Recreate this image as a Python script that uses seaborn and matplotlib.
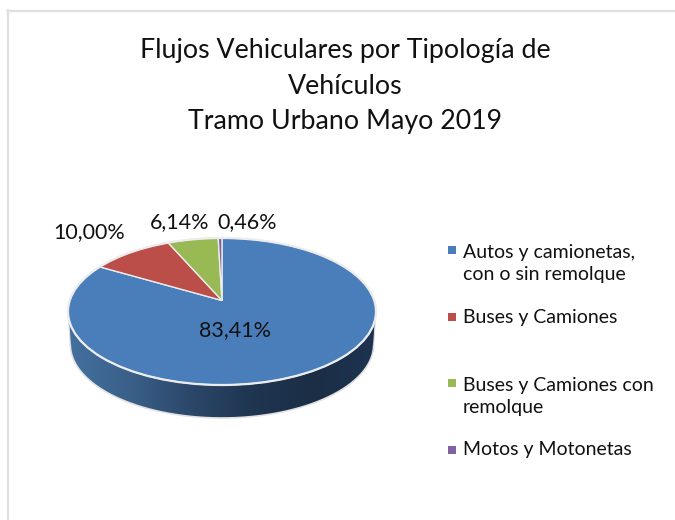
import numpy as np
import matplotlib
matplotlib.use("Agg")
import matplotlib.pyplot as plt
import matplotlib.transforms as mtransforms
from matplotlib.colors import LinearSegmentedColormap
from matplotlib.patches import Circle, PathPatch
from matplotlib.path import Path
import seaborn as sns

# ---- data ----
categories = ["Autos y camionetas,\ncon o sin remolque", "Buses y Camiones",
              "Buses y Camiones con\nremolque", "Motos y Motonetas"]
values = [83.41, 10.00, 6.14, 0.46]
title_text = "Flujos Vehiculares por Tipología de\nVehículos\nTramo Urbano Mayo 2019"
slice_colors = ["#4a7ebb", "#bc4e4a", "#98b954", "#7f63a1"]

# ---- layout (pixels) ----
W, H = 675, 520
CX, CY, RX, RY, APEX = 222.0, 311.5, 154.0, 73.5, 11.0
DEPTH = 33.0
label_pos = [(235, 330), (89, 232), (180, 222), (247, 222)]
legend_y = [250, 317, 383, 450]
legend_text_y = [263.5, 317, 396.5, 450]

sns.set_theme(style="white")
plt.rcParams["font.family"] = ["Lato", "DejaVu Sans"]
palette = sns.color_palette(slice_colors)

K = APEX / RY
A = RX * np.sqrt(1 - K ** 2)


class Persp(mtransforms.Transform):
    """Tilted view of the unit disc, output in pixel coordinates."""
    input_dims = output_dims = 2
    is_separable = False
    has_inverse = False

    def transform_non_affine(self, v):
        v = np.asarray(v, dtype=float)
        x, y = v[:, 0], v[:, 1]
        w = 1 + K * y
        return np.column_stack([CX + A * x / w, CY - (RY * y + APEX) / w])


fig = plt.figure(figsize=(W / 100, H / 100), dpi=100, facecolor="white")
ax = fig.add_axes([0, 0, 1, 1])

wedges, _ = ax.pie(values, colors=palette, startangle=90, counterclock=False,
                   wedgeprops=dict(edgecolor="#ececec", linewidth=1.0, zorder=5))
P = Persp()
for w in wedges:
    w.set_transform(P + ax.transData)

# side wall with left-to-right gradient
a0 = np.degrees(np.arcsin(K))
t = np.radians(np.linspace(180 + a0, 360 - a0, 200))
rim = P.transform_non_affine(np.column_stack([np.cos(t), np.sin(t)]))
low = rim.copy()
low[:, 0] = CX + (low[:, 0] - CX) * 0.985
low[:, 1] += DEPTH
wall_xy = np.vstack([rim, low[::-1], rim[:1]])
wall_path = Path(wall_xy)
wall_cmap = LinearSegmentedColormap.from_list(
    "wall", ["#44709f", "#3a6089", "#2b4769", "#1f3550", "#1b2e46", "#1d3350"])
img = ax.imshow(np.linspace(0, 1, 256)[None, :], cmap=wall_cmap, aspect="auto",
                extent=(CX - RX, CX + RX, CY + RY + DEPTH, CY - RY), zorder=2)
clip = PathPatch(wall_path, transform=ax.transData, facecolor="none", edgecolor="none")
ax.add_patch(clip)
img.set_clip_path(clip)
ax.add_patch(PathPatch(Path(low), fill=False, edgecolor="#e2e2e2", linewidth=1.2, zorder=3))
ax.add_patch(PathPatch(Path(np.vstack([rim[:1], low[:1]])), fill=False,
                       edgecolor="#e2e2e2", linewidth=0.8, zorder=3))
ax.add_patch(PathPatch(Path(np.vstack([rim[-1:], low[-1:]])), fill=False,
                       edgecolor="#e2e2e2", linewidth=0.8, zorder=3))

# rim highlight of the top disc
ax.add_patch(Circle((0, 0), 1.0, fill=False, edgecolor="#ececec", linewidth=1.6, zorder=6,
                    transform=P + ax.transData))

ax.set_aspect("auto")

# data labels
for v, (lx, ly) in zip(values, label_pos):
    ax.text(lx, ly, f"{v:.2f}".replace(".", ",") + "%", ha="center", va="center",
            fontsize=15.5, color="#111111", zorder=8)

# legend
for c, lab, my, ty in zip(palette, categories, legend_y, legend_text_y):
    ax.scatter([452], [my], marker="s", s=26, color=c, linewidths=0, zorder=8)
    ax.text(463, ty, lab, ha="left", va="center", fontsize=14.0, color="#111111",
            linespacing=1.36)

# title
ax.text(345, 86, title_text, ha="center", va="center", fontsize=19.3, color="#111111",
        linespacing=1.54)

# chart frame: only the top and left edges show
ax.plot([7, W], [10.5, 10.5], color="#e0e0e0", lw=1.6, clip_on=False, zorder=1)
ax.plot([8, 8], [10, H], color="#e0e0e0", lw=1.6, clip_on=False, zorder=1)
ax.set_xlim(0, W)
ax.set_ylim(H, 0)
ax.axis("off")

fig.savefig("out.png", dpi=100, facecolor="white")
